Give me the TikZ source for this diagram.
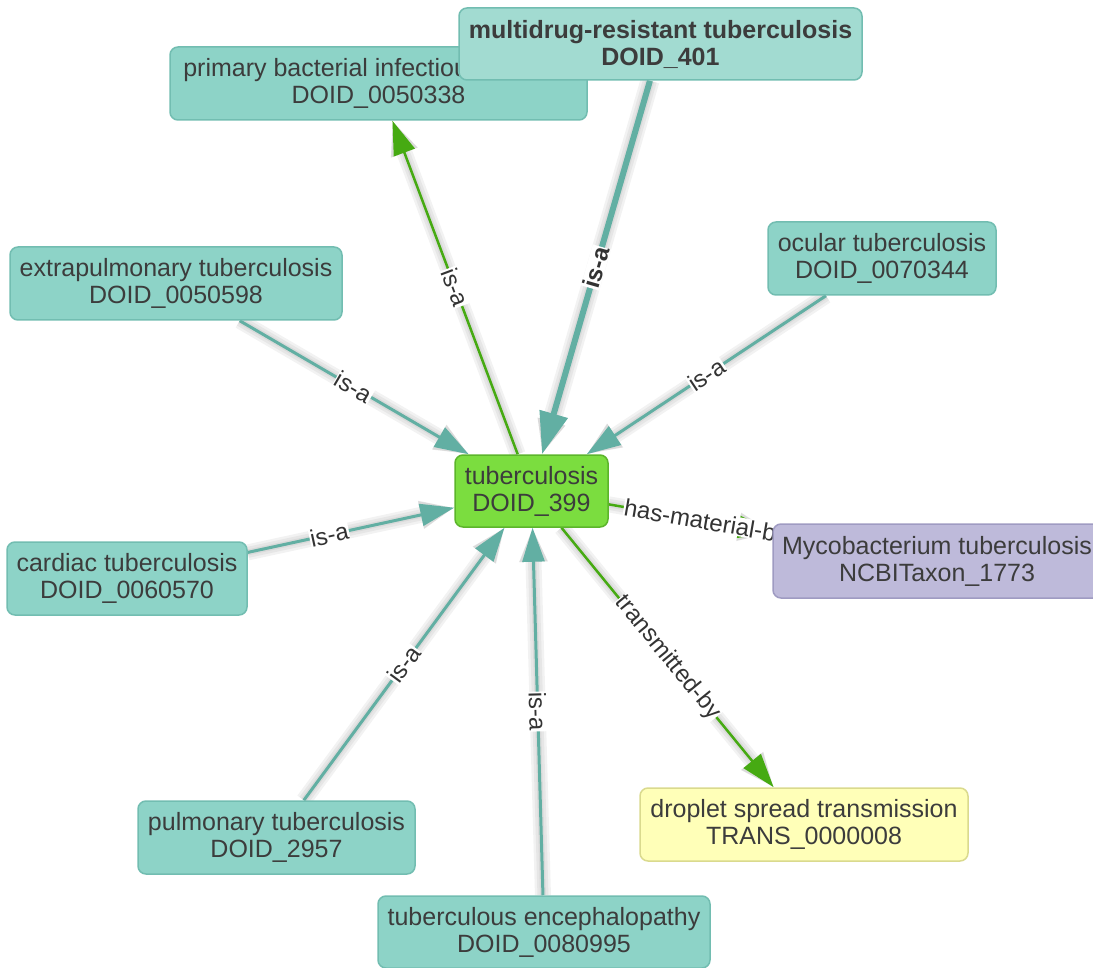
\documentclass[tikz,border=0pt]{standalone}
\usepackage{fontspec}
\setmainfont{Liberation Sans}
\usetikzlibrary{arrows.meta,calc}
\definecolor{tealfill}{HTML}{8DD3C7}
\definecolor{tealdraw}{HTML}{72BDB1}
\definecolor{mdrfill}{HTML}{A2DBD1}
\definecolor{tbfill}{HTML}{7BDD3F}
\definecolor{tbdraw}{HTML}{5CB52B}
\definecolor{mycofill}{HTML}{BEBADA}
\definecolor{mycodraw}{HTML}{9F9BC2}
\definecolor{dropfill}{HTML}{FFFFB8}
\definecolor{dropdraw}{HTML}{DADA8E}
\definecolor{tealedge}{HTML}{62AFA3}
\definecolor{greenedge}{HTML}{46AA12}
\definecolor{txt}{HTML}{3C3C3C}
\definecolor{lbltxt}{HTML}{333333}
\pgfdeclarelayer{shadow}
\pgfdeclarelayer{edges}
\pgfsetlayers{shadow,edges,main}
\newcommand{\myshadowedges}[1]{%
  \begin{scope}[transparency group, opacity=0.05, shift={(6,6)}]
    \draw[shd, line width=#1pt] (extra) -- (tb);
    \draw[shd, line width=#1pt] (ocular) -- (tb);
    \draw[shd, line width=#1pt] (cardiac) -- (tb);
    \draw[shd, line width=#1pt] (pulm) -- (tb);
    \draw[shd, line width=#1pt] (enc) -- (tb);
    \draw[shd, line width=#1pt+3pt] (mdr) -- (tb);
    \draw[shd, line width=#1pt] (tb) -- (prim);
    \draw[shd, line width=#1pt] (tb) -- (drop);
    \draw[shd, line width=#1pt] (tb) -- (myco);
  \end{scope}}
\begin{document}
\begin{tikzpicture}[x=1pt,y=-1pt,
  box/.style={rounded corners=8pt, draw=tealdraw, line width=1.5pt, fill=tealfill,
    align=center, font=\fontsize{25}{27}\selectfont, text=txt, inner sep=0pt},
  isa/.style={draw=tealedge, line width=3pt, -{Triangle[length=34pt,width=22pt]}},
  isabig/.style={draw=tealedge, line width=6pt, -{Triangle[length=42pt,width=28pt]}},
  grn/.style={draw=greenedge, line width=2.5pt, -{Triangle[length=34pt,width=22pt]}},
  lbl/.style={sloped, fill=white, inner sep=0.6pt, font=\fontsize{24}{24}\selectfont, text=lbltxt},
  shd/.style={draw=black, -{Triangle[length=34pt,width=26pt]}}
]
\useasboundingbox (0,0) rectangle (1093,968);

% nodes
\node[box, minimum width=153pt, minimum height=72pt, fill=tbfill, draw=tbdraw] (tb) at (531.5,491) {tuberculosis\\DOID\_399};
\node[box, minimum width=417pt, minimum height=73pt] (prim) at (378.5,83.5) {primary bacterial infectious disease\\DOID\_0050338};
\node[box, minimum width=403pt, minimum height=72pt, fill=mdrfill, font=\fontsize{25}{27}\selectfont\bfseries] (mdr) at (660.5,44) {multidrug-resistant tuberculosis\\DOID\_401};
\node[box, minimum width=332pt, minimum height=73pt] (extra) at (176,283.5) {extrapulmonary tuberculosis\\DOID\_0050598};
\node[box, minimum width=228pt, minimum height=73pt] (ocular) at (882,258.5) {ocular tuberculosis\\DOID\_0070344};
\node[box, minimum width=240pt, minimum height=73pt] (cardiac) at (127,578.5) {cardiac tuberculosis\\DOID\_0060570};
\node[box, minimum width=328pt, minimum height=74pt, fill=mycofill, draw=mycodraw] (myco) at (937,561) {Mycobacterium tuberculosis\\NCBITaxon\_1773};
\node[box, minimum width=328pt, minimum height=73pt, fill=dropfill, draw=dropdraw] (drop) at (804,824.5) {droplet spread transmission\\TRANS\_0000008};
\node[box, minimum width=277pt, minimum height=73pt] (pulm) at (276.5,837.5) {pulmonary tuberculosis\\DOID\_2957};
\node[box, minimum width=332pt, minimum height=72pt] (enc) at (544,932) {tuberculous encephalopathy\\DOID\_0080995};

% shadows
\begin{pgfonlayer}{shadow}
  \myshadowedges{16}
  \myshadowedges{11}
  \myshadowedges{6}
\end{pgfonlayer}

% edges
\begin{pgfonlayer}{edges}
  \draw[isa] (extra) -- (tb);
  \draw[isa] (ocular) -- (tb);
  \draw[isa] (cardiac) -- (tb);
  \draw[isa] (pulm) -- (tb);
  \draw[isa] (enc) -- (tb);
  \draw[isabig] (mdr) -- (tb);
  \draw[grn] (tb) -- (prim);
  \draw[grn] (tb) -- (drop);
  \draw[grn] (tb) -- (myco);
  % labels
  \path (extra.center) -- (tb.center) node[lbl, midway] {is-a};
  \path (ocular.center) -- (tb.center) node[lbl, midway] {is-a};
  \path (cardiac.center) -- (tb.center) node[lbl, midway] {is-a};
  \path (pulm.center) -- (tb.center) node[lbl, midway] {is-a};
  \path (enc.center) -- (tb.center) node[lbl, midway] {is-a};
  \path (mdr.center) -- (tb.center) node[lbl, midway, font=\fontsize{24}{24}\selectfont\bfseries] {is-a};
  \path (tb.center) -- (prim.center) node[lbl, midway] {is-a};
  \path (tb.center) -- (drop.center) node[lbl, midway] {transmitted-by};
  \path (tb.center) -- (myco.center) node[lbl, midway] {has-material-basis-in};
\end{pgfonlayer}
\end{tikzpicture}
\end{document}
